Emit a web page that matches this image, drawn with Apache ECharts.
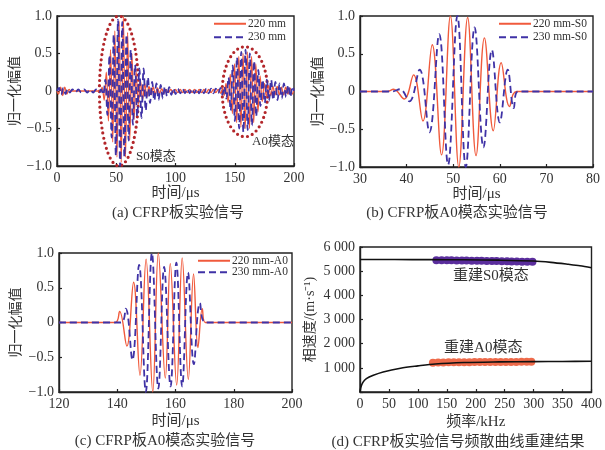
<!DOCTYPE html>
<html>
<head>
<meta charset="utf-8">
<script src="https://cdn.jsdelivr.net/npm/echarts@6/dist/echarts.min.js"></script>
<style>
  html, body { margin: 0; padding: 0; background: #fff; }
  #chart { width: 605px; height: 450px; }
</style>
</head>
<body>
<div id="chart"></div>
<script>
// ---------- (a) received signals: turning points [time µs, normalised amplitude] ----------
const signal220 = [[0,0],[1.2,-0.04],[3,0.05],[4.8,-0.06],[6.6,0.05],[8.4,-0.04],[10.2,0.02],[12,0],[37,0],
  [38,0.05],[39.8,-0.12],[41.6,0.25],[43.4,-0.4],[45.2,0.55],[47,-0.68],[48.8,0.8],[50.6,-0.88],[52.4,0.93],[54.2,-0.95],[56,1.0],
  [57.8,-0.88],[59.6,0.78],[61.4,-0.65],[63.2,0.5],[65,-0.38],[66.8,0.26],[68.6,-0.18],[70.4,0.14],[72.2,-0.12],[74,0.1],
  [75.8,-0.08],[77.6,0.06],[79.4,-0.05],[81.2,0.05],[83,-0.04],[84.8,0.04],[86.6,-0.03],[88.4,0.03],[90.2,-0.03],[92,0.02],
  [94,-0.02],[96,0.02],[98,-0.02],[100,0.02],[102,-0.02],[104,0.02],[106,-0.02],[108,0.02],[110,-0.02],[112,0.02],[114,-0.02],
  [116,0.02],[118,-0.02],[120,0.02],[122,-0.02],[124,0.02],[126,-0.02],[128,0.02],[130,-0.02],[132,0.02],[134,-0.02],[136,0.02],
  [138,-0.03],[139.8,0.04],[141,-0.06],
  [142.6,0.1],[144.4,-0.15],[146.2,0.22],[148,-0.3],[149.8,0.36],[151.6,-0.42],[153.4,0.46],[155.2,-0.48],[157,0.5],[158.8,-0.5],
  [160.6,0.52],[162.4,-0.5],[164.2,0.46],[166,-0.42],[167.8,0.36],[169.6,-0.28],[171.4,0.2],[173.2,-0.14],[175,0.1],[176.8,-0.08],
  [178.6,0.07],[180.4,-0.06],[182.2,0.06],[184,-0.05],[185.8,0.06],[187.6,-0.05],[189.4,0.05],[191.2,-0.05],[193,0.05],[194.8,-0.04],
  [196.6,0.04],[198.4,-0.04],[200,0.02]];
const signal230 = [[0,0],[1.8,0.04],[3.6,-0.05],[5.4,0.04],[7.2,-0.04],[9,0.03],[10.8,-0.02],[13,0.02],[15.5,-0.02],[18,0.02],
  [20.5,-0.02],[23,0.02],[25.5,-0.02],[28,0.02],[30.5,-0.02],[33,0.02],[35.5,-0.02],[37.2,0.02],
  [38.9,-0.05],[40.7,0.15],[42.5,-0.32],[44.3,0.48],[46.1,-0.62],[47.9,0.75],[49.7,-0.86],[51.5,0.95],[53.3,-1.0],[55.1,0.92],
  [56.9,-0.88],[58.7,0.75],[60.5,-0.66],[62.3,0.55],[64.1,-0.45],[65.9,0.35],[67.7,-0.34],[69.5,0.3],[71.3,-0.36],[73.1,0.3],
  [74.9,-0.26],[76.7,0.18],[78.5,-0.16],[80.3,0.12],[82.1,-0.13],[83.9,0.1],[85.7,-0.12],[87.5,0.08],[89.3,-0.1],[91.1,0.06],
  [92.9,-0.07],[94.7,0.05],[96.5,-0.05],[98.3,0.04],[100.1,-0.04],[102,0.03],[104,-0.03],[106,0.03],[108,-0.03],[110,0.03],
  [112,-0.03],[114,0.03],[116,-0.03],[118,0.03],[120,-0.03],[122,0.03],[124,-0.03],[126,0.03],[128,-0.03],[130,0.03],
  [132,-0.03],[134,0.03],[136,-0.03],[138,0.04],[139.6,-0.05],[141.2,0.06],
  [142.9,-0.1],[144.7,0.18],[146.5,-0.26],[148.3,0.34],[150.1,-0.4],[151.9,0.45],[153.7,-0.5],[155.5,0.52],[157.3,-0.55],[159.1,0.55],
  [160.9,-0.52],[162.7,0.5],[164.5,-0.46],[166.3,0.4],[168.1,-0.34],[169.9,0.28],[171.7,-0.2],[173.5,0.15],[175.3,-0.16],[177.1,0.15],
  [178.9,-0.13],[180.7,0.15],[182.5,-0.12],[184.3,0.12],[186.1,-0.12],[187.9,0.1],[189.7,-0.1],[191.5,0.1],[193.3,-0.08],[195.1,0.08],
  [196.9,-0.08],[198.7,0.06],[200,0]];

// Dotted rings marking the two wave packets: [centre time, centre amplitude, half width µs, half height]
const modeRings = [[52.3, 0, 16.5, 1.0], [158.6, -0.01, 19.2, 0.6]];
// Ring captions: [time, amplitude, text]
const modeNotes = [[83.5, -0.88, 'S0模态'], [182.3, -0.68, 'A0模态']];

// ---------- (b) S0 wave packets ----------
const s0Wave220 = [[30,0],[35.8,0],[37.2,0.03],[39.5,-0.1],[41.5,0.22],[43.5,-0.39],[45.5,0.62],[47.5,-0.84],[49.4,1.0],[51.2,-1.0],
  [53.1,0.98],[54.9,-0.85],[56.7,0.71],[58.6,-0.52],[60.3,0.38],[62.1,-0.2],[63.6,0],[80,0]];
const s0Wave230 = [[30,0],[36.8,0],[38.6,0.03],[40.6,-0.13],[42.8,0.29],[44.9,-0.54],[47,0.76],[48.9,-0.97],[50.9,1.0],[52.7,-1.0],
  [54.6,0.85],[56.5,-0.74],[58.3,0.55],[60,-0.41],[61.7,0.29],[63,-0.22],[63.9,0],[80,0]];

// ---------- (c) A0 wave packets ----------
const a0Wave220 = [[120,0],[139.3,0],[140.8,0.16],[143.3,-0.34],[145.6,0.58],[147.8,-0.76],[149.9,0.91],[152.2,-1.0],[154.1,1.0],
  [156.5,-0.8],[158.2,0.85],[160.4,-0.9],[162.3,0.93],[164.4,-0.82],[166.2,0.7],[167.7,-0.36],[169.2,0.2],[170.2,0],[200,0]];
const a0Wave230 = [[120,0],[141.2,0],[142.9,0.2],[145.2,-0.54],[147.5,0.83],[149.8,-1.0],[151.9,1.0],[154.1,-0.95],[156.1,0.8],
  [158.3,-0.92],[160.3,0.86],[162.3,-0.92],[164.3,0.72],[166.3,-0.6],[168.4,0.28],[170.4,0],[200,0]];

// ---------- (d) dispersion curves [kHz, m/s] and reconstructed points ----------
const s0Curve = [[0,5480],[60,5480],[120,5478],[180,5470],[240,5455],[300,5420],[330,5365],[360,5285],[380,5225],[400,5140]];
const a0Curve = [[0,0],[1.5,200],[5,400],[11,550],[23,690],[40,830],[70,985],[100,1080],[130,1160],[180,1220],[240,1245],[300,1258],[350,1265],[400,1272]];
const s0Freq = [132,141,150,158,167,176,184,193,202,210,219,228,236,245,254,262,271,280,289,298];
const s0Vel  = [5455,5452,5450,5447,5444,5441,5438,5435,5431,5428,5424,5420,5416,5412,5407,5403,5398,5394,5390,5385];
const a0Freq = [126,135,144,153,162,171,180,189,198,207,216,225,234,243,252,261,270,279,288,296];
const a0Vel  = [1215,1220,1224,1227,1230,1232,1234,1236,1238,1239,1240,1241,1242,1243,1244,1245,1246,1247,1248,1250];
const dispNotes = [[226, 4780, '重建S0模态'], [213, 1800, '重建A0模态']];

// ---------- axis ticks ----------
const ampTicks   = [-1, -0.5, 0, 0.5, 1];
const timeTicksA = [0, 50, 100, 150, 200];
const timeTicksB = [30, 40, 50, 60, 70, 80];
const timeTicksC = [120, 140, 160, 180, 200];
const freqTicks  = [0, 50, 100, 150, 200, 250, 300, 350, 400];
const velTicks   = [0, 1000, 2000, 3000, 4000, 5000, 6000];

const FONT = "'Liberation Serif','Noto Sans CJK SC',serif";
const INK = '#333';
const RED = '#f05a3c';
const BLUE = '#3f32a6';

const grids = [
  { left: 57,  top: 16,  width: 237, height: 150 },
  { left: 360, top: 16,  width: 233, height: 151 },
  { left: 59,  top: 253, width: 233, height: 139 },
  { left: 360, top: 247, width: 232, height: 145 }
].map(g => Object.assign({ show: true, borderColor: '#222', borderWidth: 1.4, backgroundColor: 'transparent' }, g));

function axis(gridIndex, ticks, extra) {
  return Object.assign({
    type: 'value', gridIndex,
    min: ticks[0], max: ticks[ticks.length - 1], interval: ticks[1] - ticks[0],
    axisLine: { show: true, onZero: false, lineStyle: { color: '#222', width: 1.4 } },
    axisTick: { show: true, inside: true, length: 3, lineStyle: { color: '#222', width: 1.2 } },
    splitLine: { show: false },
    axisLabel: { color: INK, fontSize: 14, fontFamily: FONT, margin: 5 },
    nameLocation: 'middle',
    nameTextStyle: { color: INK, fontSize: 15, fontFamily: FONT }
  }, extra);
}

const ampLabel = v => v === 0 ? '0' : (v < 0 ? '\u2212' : '') + Math.abs(v).toFixed(1);
const ampAxisLabel = { color: INK, fontSize: 14, fontFamily: FONT, margin: 5, formatter: ampLabel };
const yNameStyle = { color: INK, fontSize: 14, fontFamily: FONT };

const xAxes = [
  axis(0, timeTicksA, { name: '时间/μs', nameGap: 19 }),
  axis(1, timeTicksB, { name: '时间/μs', nameGap: 20 }),
  axis(2, timeTicksC, { name: '时间/μs', nameGap: 22 }),
  axis(3, freqTicks,  { name: '频率/kHz', nameGap: 23 })
];
const yAxes = [
  axis(0, ampTicks, { name: '归一化幅值', nameGap: 34, axisLabel: ampAxisLabel, nameTextStyle: yNameStyle }),
  axis(1, ampTicks, { name: '归一化幅值', nameGap: 35, axisLabel: ampAxisLabel, nameTextStyle: yNameStyle }),
  axis(2, ampTicks, { name: '归一化幅值', nameGap: 36, axisLabel: ampAxisLabel, nameTextStyle: yNameStyle }),
  axis(3, velTicks, { name: '相速度/(m·s⁻¹)', nameGap: 43, nameTextStyle: yNameStyle,
    axisLabel: { color: INK, fontSize: 14, fontFamily: FONT, margin: 5,
      formatter: v => v === 0 ? '' : String(v).replace(/\B(?=(\d{3})+$)/, ' ') } })
];

function wave(name, data, idx, color, dashed, width) {
  return {
    type: 'line', name, data, xAxisIndex: idx, yAxisIndex: idx,
    symbol: 'none', smooth: 0.4, animation: false,
    lineStyle: { color, width, type: dashed ? [7, 4] : 'solid' },
    itemStyle: { color }
  };
}

function legend(left, top, names, gap) {
  return {
    left, top, orient: 'vertical', padding: 0, itemWidth: 32, itemHeight: 12, itemGap: gap,
    selectedMode: false, data: names,
    itemStyle: { color: 'rgba(0,0,0,0)', borderWidth: 0, opacity: 0 },
    textStyle: { color: INK, fontSize: 11.5, fontFamily: FONT, padding: [0, 0, 0, -3] }
  };
}

const textLayer = (idx, data, size, color) => ({
  type: 'custom', xAxisIndex: idx, yAxisIndex: idx, data, clip: false, silent: true, animation: false,
  renderItem(params, api) {
    const p = api.coord([api.value(0), api.value(1)]);
    return { type: 'text', x: p[0], y: p[1],
      style: { text: data[params.dataIndex][2], fill: color, fontSize: size, fontFamily: FONT, align: 'center', verticalAlign: 'middle' } };
  }
});

const caption = (x, y, text) => ({ type: 'text', x, y,
  style: { text, fill: INK, fontSize: 15, fontFamily: FONT, align: 'center', verticalAlign: 'middle' } });

const option = {
  animation: false,
  backgroundColor: '#fff',
  textStyle: { fontFamily: FONT },
  grid: grids,
  xAxis: xAxes,
  yAxis: yAxes,
  legend: [
    legend(213, 18, ['220 mm', '230 mm'], 2),
    legend(498, 18, ['220 mm-S0', '230 mm-S0'], 2),
    legend(197, 255, ['220 mm-A0', '230 mm-A0'], 0)
  ],
  series: [
    wave('220 mm', signal220, 0, RED, false, 1.3),
    wave('230 mm', signal230, 0, BLUE, true, 1.8),
    {
      type: 'custom', xAxisIndex: 0, yAxisIndex: 0, data: modeRings, clip: false, silent: true, animation: false,
      renderItem(params, api) {
        const c = api.coord([api.value(0), api.value(1)]);
        const s = api.size([api.value(2), api.value(3)]);
        return { type: 'ellipse', shape: { cx: c[0], cy: c[1], rx: s[0], ry: s[1] },
          style: { fill: 'none', stroke: '#b3262a', lineWidth: 3.2, lineDash: [0, 5.2], lineCap: 'round' } };
      }
    },
    textLayer(0, modeNotes, 13, INK),
    wave('220 mm-S0', s0Wave220, 1, RED, false, 1.4),
    wave('230 mm-S0', s0Wave230, 1, BLUE, true, 1.8),
    wave('220 mm-A0', a0Wave220, 2, RED, false, 1.4),
    wave('230 mm-A0', a0Wave230, 2, BLUE, true, 1.8),
    { type: 'line', data: s0Curve, xAxisIndex: 3, yAxisIndex: 3, symbol: 'none', smooth: 0.3,
      lineStyle: { color: '#111', width: 1.6 }, animation: false },
    { type: 'line', data: a0Curve, xAxisIndex: 3, yAxisIndex: 3, symbol: 'none', smooth: 0.3,
      lineStyle: { color: '#111', width: 1.6 }, animation: false },
    { type: 'scatter', data: s0Freq.map((f, i) => [f, s0Vel[i]]), xAxisIndex: 3, yAxisIndex: 3,
      symbol: 'circle', symbolSize: 8, itemStyle: { color: '#5a2d9c', opacity: 1 }, animation: false },
    { type: 'scatter', data: a0Freq.map((f, i) => [f, a0Vel[i]]), xAxisIndex: 3, yAxisIndex: 3,
      symbol: 'circle', symbolSize: 8, itemStyle: { color: '#ee6a4a', opacity: 1 }, animation: false },
    textLayer(3, dispNotes, 15, INK)
  ],
  graphic: [
    caption(178, 213, '(a) CFRP板实验信号'),
    caption(457, 213, '(b) CFRP板A0模态实验信号'),
    caption(165, 441, '(c) CFRP板A0模态实验信号'),
    caption(458, 442, '(d) CFRP板实验信号频散曲线重建结果')
  ]
};

const chart = echarts.init(document.getElementById('chart'), null, { renderer: 'canvas' });
chart.setOption(option);
</script>
</body>
</html>
